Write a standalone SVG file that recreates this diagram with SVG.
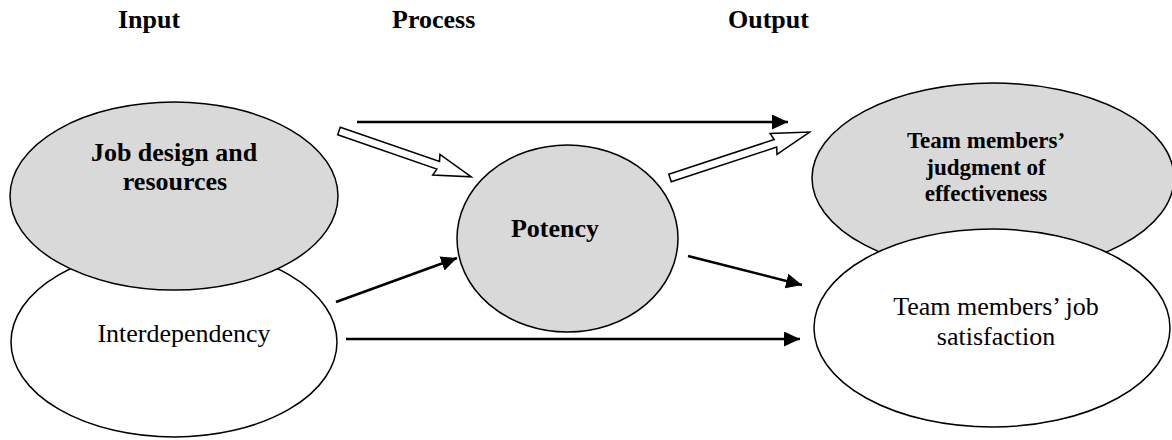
<svg xmlns="http://www.w3.org/2000/svg" width="1172" height="440" viewBox="0 0 1172 440">
  <style>
    .hdr { font-family: "Liberation Serif", "Times New Roman", serif; font-weight: bold; font-size: 26px; fill: #000; }
    .bold { font-family: "Liberation Serif", "Times New Roman", serif; font-weight: bold; font-size: 26px; fill: #000; text-anchor: middle; }
    .bold-sm { font-family: "Liberation Serif", "Times New Roman", serif; font-weight: bold; font-size: 23px; fill: #000; text-anchor: middle; }
    .reg { font-family: "Liberation Serif", "Times New Roman", serif; font-size: 26px; fill: #000; text-anchor: middle; }
    .shade { fill: #d9d9d9; stroke: #000; stroke-width: 1.5; }
    .plain { fill: #fff; stroke: #000; stroke-width: 1.5; }
    .link { stroke: #000; stroke-width: 2.5; fill: none; marker-end: url(#head); }
    .block { fill: #fff; stroke: #000; stroke-width: 1.5; stroke-linejoin: miter; }
  </style>
  <defs>
    <marker id="head" markerUnits="userSpaceOnUse" markerWidth="17" markerHeight="15" refX="16" refY="7.5" orient="auto">
      <path d="M0,0 L16,7.5 L0,15 Z" fill="#000"/>
    </marker>
    <!-- hollow block arrows laid along +x, tail at the origin -->
    <path id="blockShort" d="M0,-4 L105,-4 L103,-11 L140,0 L103,11 L105,4 L0,4 Z"/>
    <path id="blockLong" d="M0,-4 L111,-4 L109,-11 L147,0 L109,11 L111,4 L0,4 Z"/>
  </defs>

  <!-- column headings -->
  <g id="headings">
    <text class="hdr" x="118" y="28">Input</text>
    <text class="hdr" x="392" y="28">Process</text>
    <text class="hdr" x="728" y="28">Output</text>
  </g>

  <!-- input nodes -->
  <g id="interdependency">
    <ellipse class="plain" cx="174" cy="342" rx="163" ry="95"/>
    <text class="reg" x="184" y="342">Interdependency</text>
  </g>
  <g id="job-design">
    <ellipse class="shade" cx="174" cy="196" rx="164" ry="94"/>
    <text class="bold" x="174" y="161">Job design and</text>
    <text class="bold" x="175" y="190">resources</text>
  </g>

  <!-- process node -->
  <g id="potency">
    <ellipse class="shade" cx="567.5" cy="238.5" rx="110.5" ry="93.5"/>
    <text class="bold" x="555" y="237">Potency</text>
  </g>

  <!-- output nodes -->
  <g id="effectiveness">
    <ellipse class="shade" cx="993" cy="178" rx="181" ry="95"/>
    <text class="bold-sm" x="986" y="148">Team members’</text>
    <text class="bold-sm" x="986" y="175">judgment of</text>
    <text class="bold-sm" x="986" y="201">effectiveness</text>
  </g>
  <g id="satisfaction">
    <ellipse class="plain" cx="992" cy="328" rx="178" ry="99"/>
    <text class="reg" x="996" y="315">Team members’ job</text>
    <text class="reg" x="996" y="345">satisfaction</text>
  </g>

  <!-- connectors -->
  <g id="connectors">
    <line class="link" x1="357" y1="122" x2="788" y2="122"/>
    <use href="#blockShort" class="block" transform="translate(339,131) rotate(19.1)"/>
    <use href="#blockLong" class="block" transform="translate(670,178) rotate(-18.2)"/>
    <line class="link" x1="336" y1="302" x2="457" y2="258"/>
    <line class="link" x1="688" y1="256" x2="802" y2="285"/>
    <line class="link" x1="346" y1="339" x2="800" y2="339"/>
  </g>
</svg>
